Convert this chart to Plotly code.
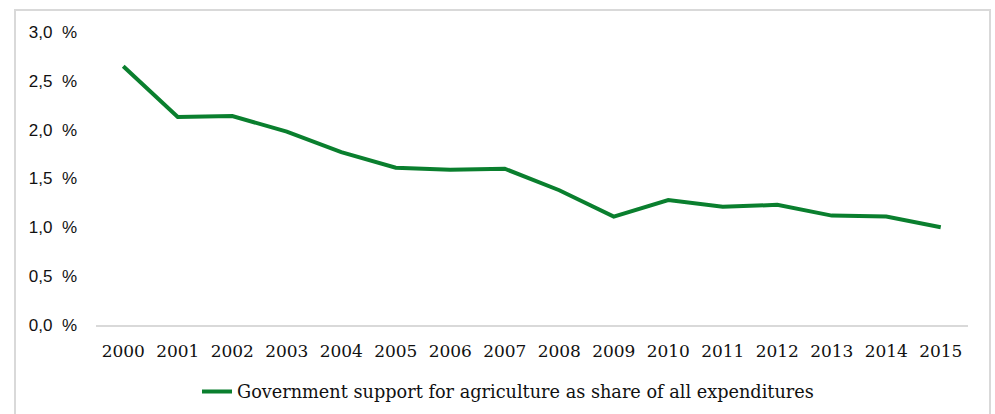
import plotly.graph_objects as go

# Government support for agriculture, share of all expenditures (%)
years = [str(y) for y in range(2000, 2016)]
share = [2.65, 2.13, 2.14, 1.98, 1.77, 1.61, 1.59, 1.60,
         1.38, 1.11, 1.28, 1.21, 1.23, 1.12, 1.11, 1.00]
series_name = "Government support for agriculture as share of all expenditures"

y_ticks = [0, 0.5, 1.0, 1.5, 2.0, 2.5, 3.0]
y_tick_text = ["0,0\u00a0 %", "0,5\u00a0 %", "1,0\u00a0 %", "1,5\u00a0 %",
               "2,0\u00a0 %", "2,5\u00a0 %", "3,0\u00a0 %"]

GREEN = "#0a7f2e"
GRID = "#d9d9d9"

fig = go.Figure()
fig.add_trace(go.Scatter(
    x=years, y=share, mode="lines", name=series_name,
    line=dict(color=GREEN, width=4),
))

W, H = 995, 414
L, R, T, B = 96, 27, 32, 89
pw, ph = W - L - R, H - T - B

def px_x(p):
    return (p - L) / pw

def px_y(p):
    return (H - B - p) / ph

# outer frame around the chart
fig.add_shape(type="rect", xref="paper", yref="paper",
              x0=px_x(15), x1=px_x(990), y0=px_y(430), y1=px_y(10),
              line=dict(color=GRID, width=2), fillcolor="rgba(0,0,0,0)",
              layer="below")

fig.update_layout(
    width=W, height=H,
    margin=dict(l=L, r=R, t=T, b=B),
    paper_bgcolor="white", plot_bgcolor="white",
    showlegend=True,
    legend=dict(orientation="h", xref="container", x=508 / W, xanchor="center",
                yref="container", y=1 - 392 / H, yanchor="middle",
                font=dict(family="DejaVu Serif", size=17.7, color="#111111"),
                itemwidth=30, tracegroupgap=0),
    xaxis=dict(
        type="category", range=[-0.5, len(years) - 0.5],
        showgrid=False, zeroline=False,
        showline=True, linecolor=GRID, linewidth=2,
        ticks="", ticklabelstandoff=10,
        tickfont=dict(family="DejaVu Serif", size=17, color="#111111"),
    ),
    yaxis=dict(
        range=[0, 3.0], showgrid=False, zeroline=False, showline=False,
        tickvals=y_ticks, ticktext=y_tick_text, ticks="",
        ticklabelstandoff=18,
        tickfont=dict(family="Liberation Sans", size=17, color="#111111"),
    ),
)

fig.write_html("out.html")
